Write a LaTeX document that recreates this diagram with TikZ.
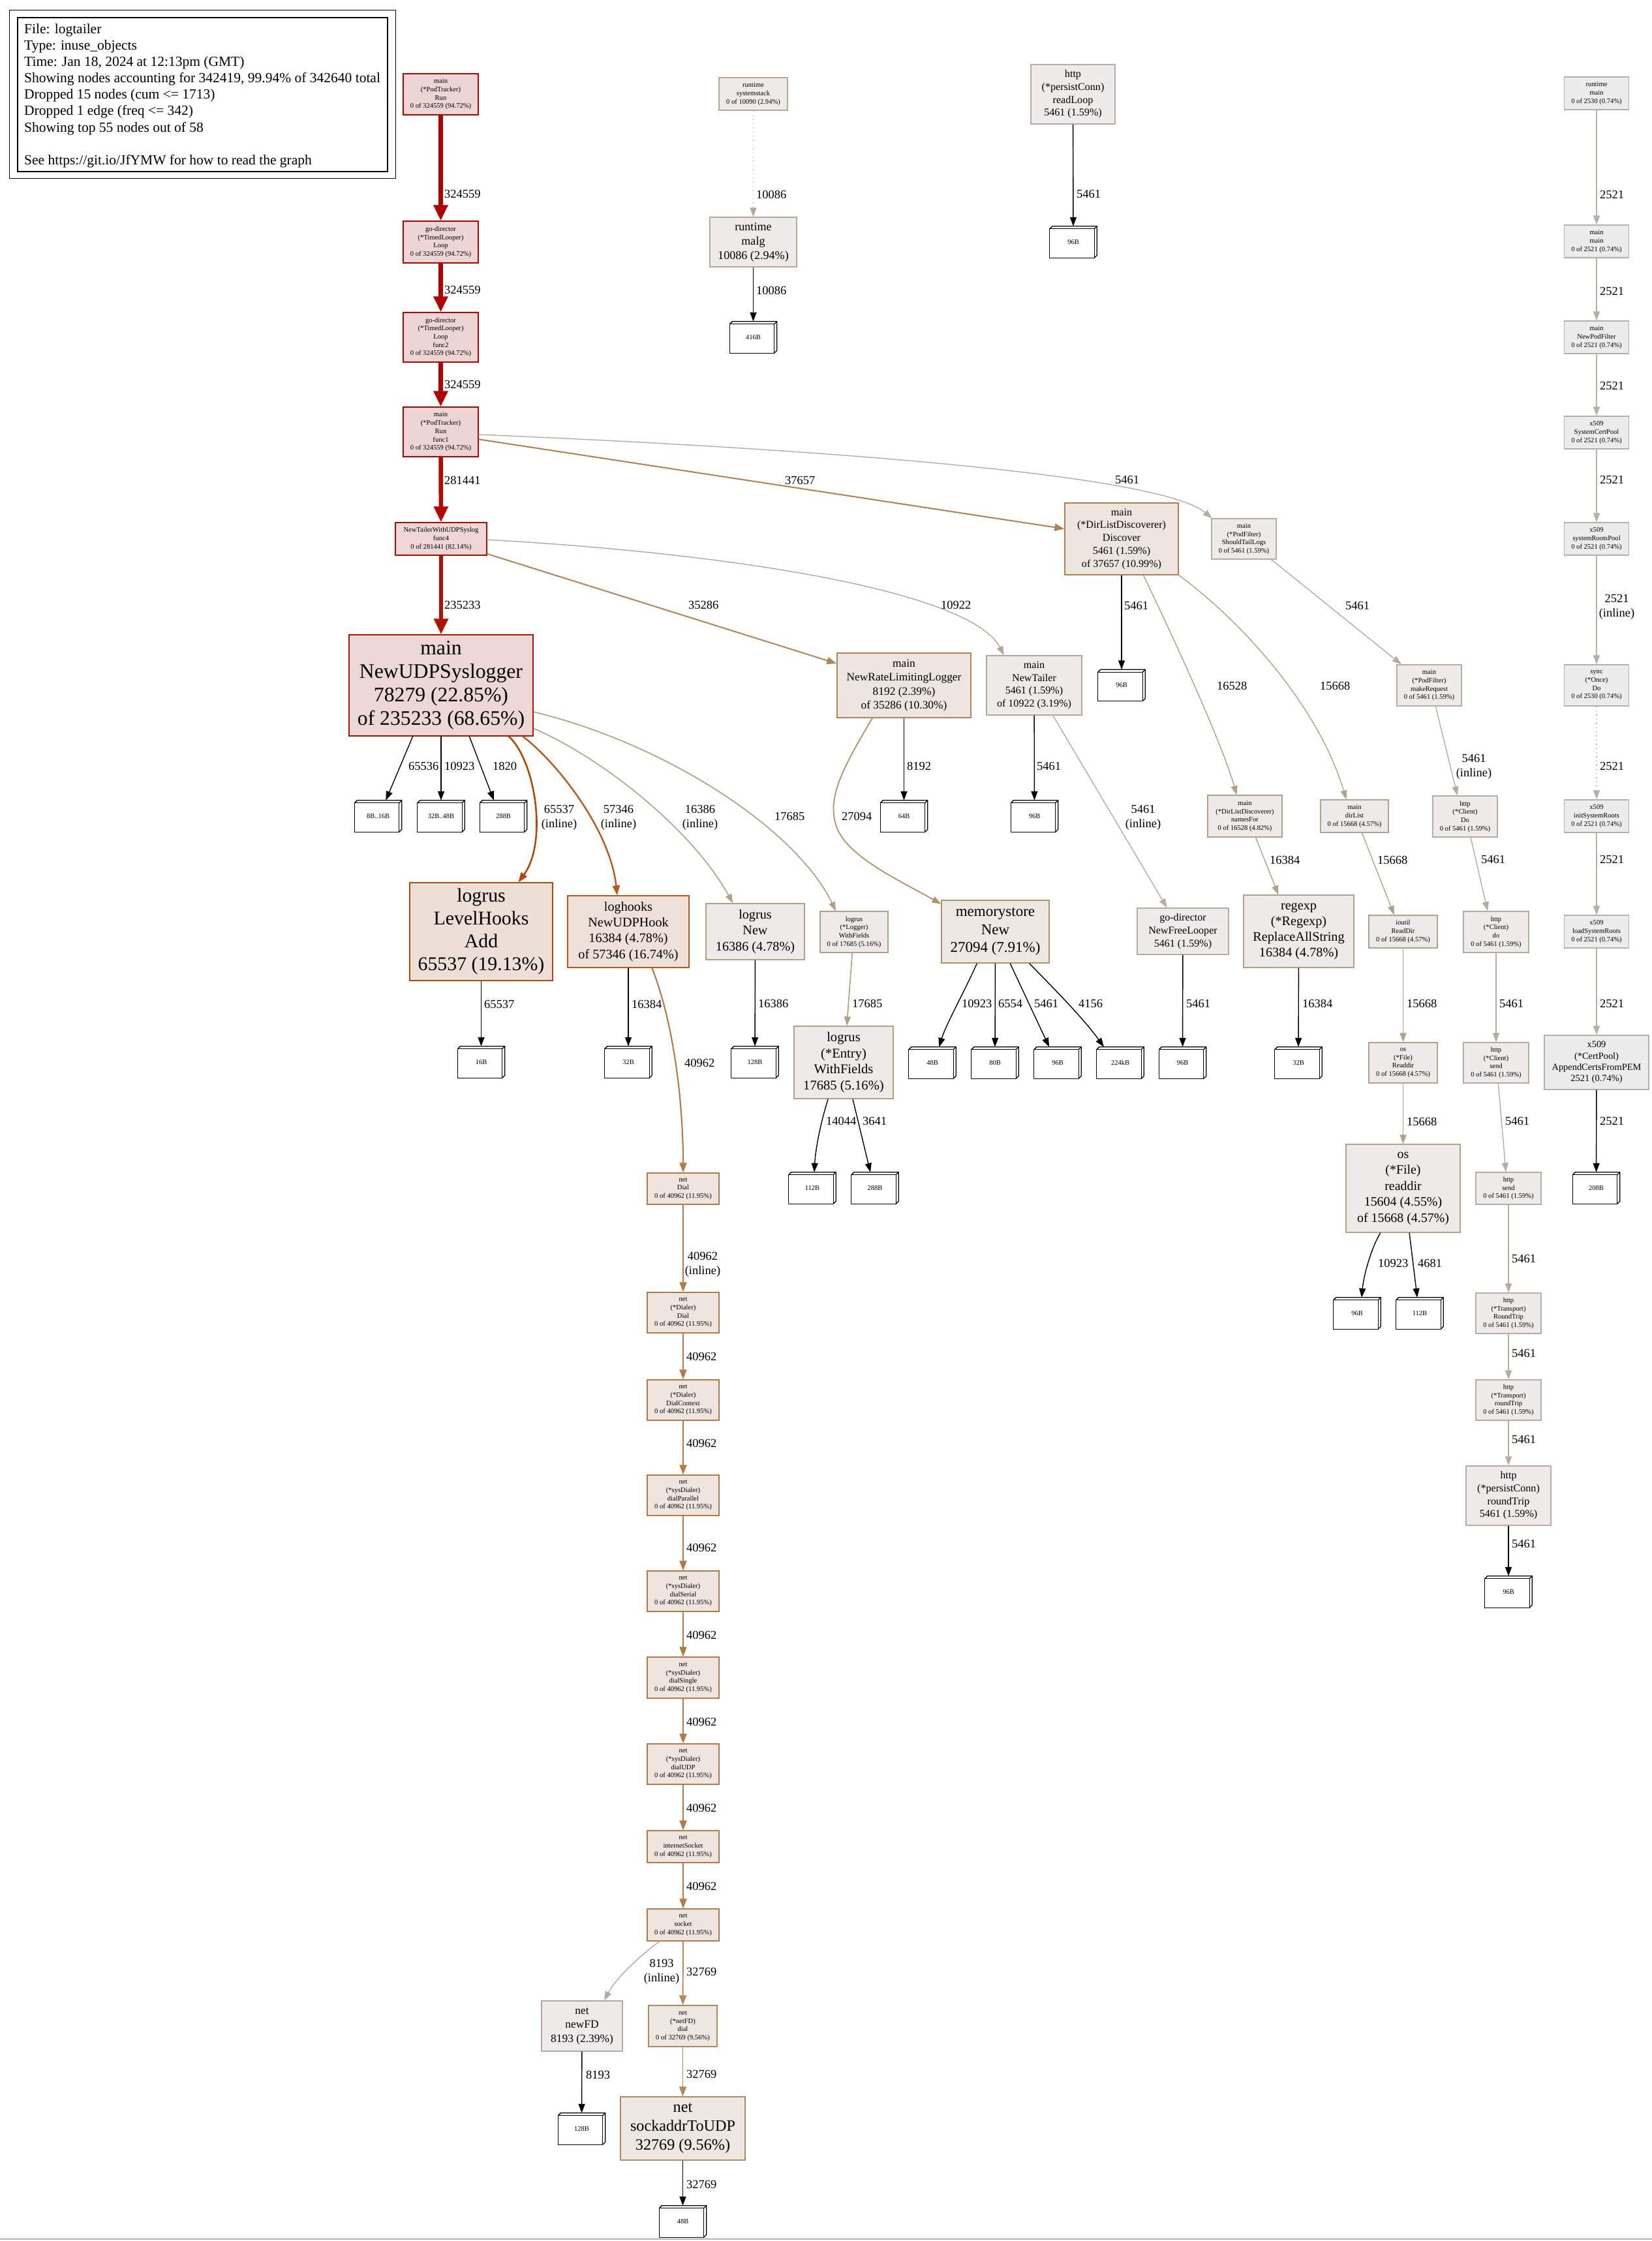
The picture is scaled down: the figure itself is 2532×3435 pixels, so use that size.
\documentclass[tikz,border=0pt]{standalone}
\usepackage{fontspec}
\setmainfont{Liberation Serif}
\usetikzlibrary{arrows.meta}
\newcommand\fzs{\fontsize{10.56}{12.7}\selectfont}
\newcommand\fzudp{\fontsize{31.7}{36}\selectfont}
\newcommand\fzlvl{\fontsize{29.8}{35}\selectfont}
\newcommand\fzsock{\fontsize{24.2}{29}\selectfont}
\newcommand\fzmem{\fontsize{23}{27.5}\selectfont}
\newcommand\fzent{\fontsize{20.6}{24.5}\selectfont}
\newcommand\fzhk{\fontsize{20.2}{24.2}\selectfont}
\newcommand\fzrd{\fontsize{19.9}{24.5}\selectfont}
\newcommand\fzmalg{\fontsize{18.1}{22}\selectfont}
\newcommand\fzrl{\fontsize{17.4}{21.5}\selectfont}
\newcommand\fzd{\fontsize{16.1}{19.7}\selectfont}
\newcommand\fzac{\fontsize{14.4}{17.3}\selectfont}
\newcommand\fztag{\fontsize{10.5}{12}\selectfont}
\newcommand\fzlbl{\fontsize{18.5}{21.5}\selectfont}
\newcommand\fzleg{\fontsize{21.5}{25.1}\selectfont}
\definecolor{rA}{HTML}{B20200}\definecolor{rAf}{HTML}{EDD5D5}
\definecolor{rB}{HTML}{B20A00}\definecolor{rBf}{HTML}{EDD6D5}
\definecolor{rC}{HTML}{B21300}\definecolor{rCf}{HTML}{EDD7D5}
\definecolor{oA}{HTML}{B24A07}\definecolor{oAf}{HTML}{EDDFD6}
\definecolor{oB}{HTML}{B25B1D}\definecolor{oBf}{HTML}{EDE1D9}
\definecolor{nA}{HTML}{B27A47}\definecolor{nAf}{HTML}{EDE5DE}
\definecolor{dA}{HTML}{B27F50}\definecolor{dAf}{HTML}{EDE6E0}
\definecolor{dB}{HTML}{B28456}\definecolor{dBf}{HTML}{EDE6E0}
\definecolor{sA}{HTML}{B2885D}\definecolor{sAf}{HTML}{EDE7E1}
\definecolor{mA}{HTML}{B2916B}\definecolor{mAf}{HTML}{EDE8E3}
\definecolor{wA}{HTML}{B29F84}\definecolor{wAf}{HTML}{EDEAE7}
\definecolor{gA}{HTML}{B2A187}\definecolor{gAf}{HTML}{EDEAE7}
\definecolor{gB}{HTML}{B2A289}\definecolor{gBf}{HTML}{EDEBE7}
\definecolor{gC}{HTML}{B2A896}\definecolor{gCf}{HTML}{EDEBE9}
\definecolor{gD}{HTML}{B2A998}\definecolor{gDf}{HTML}{EDEBE9}
\definecolor{gE}{HTML}{B2AB9D}\definecolor{gEf}{HTML}{EDECEA}
\definecolor{gF}{HTML}{B2AEA4}\definecolor{gFf}{HTML}{EDECEB}
\definecolor{gG}{HTML}{B2B0AB}\definecolor{gGf}{HTML}{EDECEC}
\tikzset{
 nd/.style={draw, rectangle, inner sep=0pt, align=center, line width=1.3pt},
 tagb/.style={rectangle, inner sep=0pt, minimum width=72pt, minimum height=48pt, font=\fztag},
 tagline/.style={draw=black, line width=1.3pt, line join=miter},
 ed/.style={line width=1.4pt, -{Triangle[length=14pt,width=10pt]}},
 edm/.style={line width=2.1pt, -{Triangle[length=15pt,width=11pt]}},
 thk/.style={line width=7pt, -{Triangle[length=24pt,width=21pt]}},
 lbl/.style={font=\fzlbl, inner sep=0pt, anchor=base west},
 lbltwo/.style={font=\fzlbl, inner sep=0pt, align=center},
 legl/.style={font=\fzleg, inner sep=0pt, anchor=base west},
 dotd/.style={dash pattern=on 1.4pt off 5pt},
}
\begin{document}
\begin{tikzpicture}[x=1pt,y=-1pt]
\fill[white] (0,0) rectangle (2532,3435);
\useasboundingbox (0,0) rectangle (2532,3435);
\draw[gray!60, line width=1.5pt] (0,3432) -- (2532,3432);
% legend
\node[draw, line width=1.3pt, minimum width=567pt, minimum height=236pt, inner sep=0pt] (legend) at (310.5,145) {};
\draw[line width=1.3pt] ([xshift=-12pt,yshift=11pt]legend.north west) rectangle ([xshift=12pt,yshift=-10pt]legend.south east);
\node[legl] (lg1) at (37,51.4) {File: logtailer};
\node[legl] (lg2) at (37,76.5) {Type: inuse\_objects};
\node[legl] (lg3) at (37,101.6) {Time: Jan 18, 2024 at 12:13pm (GMT)};
\node[legl] (lg4) at (37,126.7) {Showing nodes accounting for 342419, 99.94\% of 342640 total};
\node[legl] (lg5) at (37,151.8) {Dropped 15 nodes (cum <= 1713)};
\node[legl] (lg6) at (37,176.9) {Dropped 1 edge (freq <= 342)};
\node[legl] (lg7) at (37,202.0) {Showing top 55 nodes out of 58};
\node[legl] (lg8) at (37,252.2) {See https://git.io/JfYMW for how to read the graph};
% left chain
\node[nd, draw=rA, fill=rAf, minimum width=115pt, minimum height=63pt, font=\fzs] (run) at (675.5,144.5) {main\\(*PodTracker)\\Run\\0 of 324559 (94.72\%)};
\node[nd, draw=rA, fill=rAf, minimum width=115pt, minimum height=64pt, font=\fzs] (loop) at (675.5,371) {go-director\\(*TimedLooper)\\Loop\\0 of 324559 (94.72\%)};
\node[nd, draw=rA, fill=rAf, minimum width=115pt, minimum height=76pt, font=\fzs] (func2) at (675.5,517) {go-director\\(*TimedLooper)\\Loop\\func2\\0 of 324559 (94.72\%)};
\node[nd, draw=rA, fill=rAf, minimum width=115pt, minimum height=76pt, font=\fzs] (func1) at (675.5,662) {main\\(*PodTracker)\\Run\\func1\\0 of 324559 (94.72\%)};
\node[nd, draw=rB, fill=rBf, minimum width=140pt, minimum height=50pt, font=\fzs] (tailer) at (676,826) {NewTailerWithUDPSyslog\\func4\\0 of 281441 (82.14\%)};
\node[nd, draw=rC, fill=rCf, minimum width=282pt, minimum height=155pt, font=\fzudp] (udpsys) at (676,1050.5) {main\\NewUDPSyslogger\\78279 (22.85\%)\\of 235233 (68.65\%)};
\node[tagb] (b8) at (579.5,1251) {8B..16B};
\node[tagb] (b3248) at (676,1251) {32B..48B};
\node[tagb] (b288) at (771.5,1251) {288B};
\node[nd, draw=oA, fill=oAf, minimum width=219pt, minimum height=150pt, font=\fzlvl] (lvlhooks) at (737.5,1428) {logrus\\LevelHooks\\Add\\65537 (19.13\%)};
\node[nd, draw=oB, fill=oBf, minimum width=186pt, minimum height=110pt, font=\fzhk] (udphook) at (963,1428) {loghooks\\NewUDPHook\\16384 (4.78\%)\\of 57346 (16.74\%)};
\node[nd, draw=gA, fill=gAf, minimum width=151pt, minimum height=86pt, font=\fzhk] (lnew) at (1157.5,1428) {logrus\\New\\16386 (4.78\%)};
\node[nd, draw=wA, fill=wAf, minimum width=104pt, minimum height=63pt, font=\fzs] (lwithf) at (1309,1428.5) {logrus\\(*Logger)\\WithFields\\0 of 17685 (5.16\%)};
\node[nd, draw=mA, fill=mAf, minimum width=165pt, minimum height=96pt, font=\fzmem] (memnew) at (1525.5,1428) {memorystore\\New\\27094 (7.91\%)};
\node[nd, draw=gF, fill=gFf, minimum width=140pt, minimum height=71pt, font=\fzd] (freelooper) at (1813,1427.5) {go-director\\NewFreeLooper\\5461 (1.59\%)};
\node[nd, draw=gA, fill=gAf, minimum width=169pt, minimum height=111pt, font=\fzhk] (regexp) at (1990.5,1427.5) {regexp\\(*Regexp)\\ReplaceAllString\\16384 (4.78\%)};
\node[nd, draw=gB, fill=gBf, minimum width=105pt, minimum height=50pt, font=\fzs] (readdirU) at (2150.5,1428) {ioutil\\ReadDir\\0 of 15668 (4.57\%)};
\node[nd, draw=gF, fill=gFf, minimum width=100pt, minimum height=63pt, font=\fzs] (clientdoL) at (2293,1428.5) {http\\(*Client)\\do\\0 of 5461 (1.59\%)};
\node[nd, draw=gG, fill=gGf, minimum width=99pt, minimum height=50pt, font=\fzs] (loadroots) at (2447,1428) {x509\\loadSystemRoots\\0 of 2521 (0.74\%)};
\node[tagb] (b16) at (737.5,1628) {16B};
\node[tagb] (b32a) at (963,1628) {32B};
\node[tagb] (b128a) at (1157,1628) {128B};
\node[nd, draw=wA, fill=wAf, minimum width=152pt, minimum height=111pt, font=\fzent] (ewithf) at (1293,1628.5) {logrus\\(*Entry)\\WithFields\\17685 (5.16\%)};
\node[tagb] (b48a) at (1429,1629) {48B};
\node[tagb] (b80) at (1525,1629) {80B};
\node[tagb] (b96c) at (1621,1629) {96B};
\node[tagb] (b224k) at (1717,1629) {224kB};
\node[tagb] (b96d) at (1812.5,1629) {96B};
\node[tagb] (b32b) at (1990,1629) {32B};
\node[nd, draw=gB, fill=gBf, minimum width=105pt, minimum height=62pt, font=\fzs] (osReaddirU) at (2150.5,1629) {os\\(*File)\\Readdir\\0 of 15668 (4.57\%)};
\node[nd, draw=gF, fill=gFf, minimum width=100pt, minimum height=62pt, font=\fzs] (clientsend) at (2293,1629) {http\\(*Client)\\send\\0 of 5461 (1.59\%)};
\node[nd, draw=gG, fill=gGf, minimum width=160pt, minimum height=83pt, font=\fzac] (appendcerts) at (2447,1628.5) {x509\\(*CertPool)\\AppendCertsFromPEM\\2521 (0.74\%)};
\node[nd, draw=nA, fill=nAf, minimum width=110pt, minimum height=48pt, font=\fzs] (netdial) at (1047,1822) {net\\Dial\\0 of 40962 (11.95\%)};
\node[tagb] (b112a) at (1245,1821) {112B};
\node[tagb] (b288b) at (1341,1821) {288B};
\node[nd, draw=gB, fill=gBf, minimum width=175pt, minimum height=135pt, font=\fzrd] (osreaddir) at (2150.5,1821.5) {os\\(*File)\\readdir\\15604 (4.55\%)\\of 15668 (4.57\%)};
\node[nd, draw=gF, fill=gFf, minimum width=100pt, minimum height=49pt, font=\fzs] (httpsend) at (2312,1821.5) {http\\send\\0 of 5461 (1.59\%)};
\node[tagb] (b208) at (2446.5,1821) {208B};
\node[nd, draw=nA, fill=nAf, minimum width=110pt, minimum height=62pt, font=\fzs] (dialerDial) at (1047,2012) {net\\(*Dialer)\\Dial\\0 of 40962 (11.95\%)};
\node[tagb] (b96f) at (2080,2013) {96B};
\node[tagb] (b112b) at (2176,2013) {112B};
\node[nd, draw=gF, fill=gFf, minimum width=100pt, minimum height=62pt, font=\fzs] (troundtripU) at (2312,2013) {http\\(*Transport)\\RoundTrip\\0 of 5461 (1.59\%)};
\node[nd, draw=nA, fill=nAf, minimum width=110pt, minimum height=62pt, font=\fzs] (dialctx) at (1047,2146) {net\\(*Dialer)\\DialContext\\0 of 40962 (11.95\%)};
\node[nd, draw=gF, fill=gFf, minimum width=100pt, minimum height=62pt, font=\fzs] (troundtrip) at (2312,2146) {http\\(*Transport)\\roundTrip\\0 of 5461 (1.59\%)};
\node[nd, draw=nA, fill=nAf, minimum width=110pt, minimum height=62pt, font=\fzs] (dialpar) at (1047,2292) {net\\(*sysDialer)\\dialParallel\\0 of 40962 (11.95\%)};
\node[nd, draw=gF, fill=gFf, minimum width=130pt, minimum height=91pt, font=\fzd] (pcroundtrip) at (2312,2292.5) {http\\(*persistConn)\\roundTrip\\5461 (1.59\%)};
\node[nd, draw=nA, fill=nAf, minimum width=110pt, minimum height=62pt, font=\fzs] (dialser) at (1047,2439) {net\\(*sysDialer)\\dialSerial\\0 of 40962 (11.95\%)};
\node[tagb] (b96g) at (2312,2440) {96B};
\node[nd, draw=nA, fill=nAf, minimum width=110pt, minimum height=63pt, font=\fzs] (dialsingle) at (1047,2571.5) {net\\(*sysDialer)\\dialSingle\\0 of 40962 (11.95\%)};
\node[nd, draw=nA, fill=nAf, minimum width=110pt, minimum height=62pt, font=\fzs] (dialudp) at (1047,2704) {net\\(*sysDialer)\\dialUDP\\0 of 40962 (11.95\%)};
\node[nd, draw=nA, fill=nAf, minimum width=110pt, minimum height=49pt, font=\fzs] (inetsock) at (1047,2830.5) {net\\internetSocket\\0 of 40962 (11.95\%)};
\node[nd, draw=nA, fill=nAf, minimum width=110pt, minimum height=49pt, font=\fzs] (socket) at (1047,2950.5) {net\\socket\\0 of 40962 (11.95\%)};
\node[nd, draw=gE, fill=gEf, minimum width=124pt, minimum height=77pt, font=\fzrl] (newfd) at (892,3105.5) {net\\newFD\\8193 (2.39\%)};
\node[nd, draw=sA, fill=sAf, minimum width=105pt, minimum height=63pt, font=\fzs] (netfddial) at (1046.5,3105.5) {net\\(*netFD)\\dial\\0 of 32769 (9.56\%)};
\node[tagb] (b128b) at (891.5,3263) {128B};
\node[nd, draw=sA, fill=sAf, minimum width=191pt, minimum height=97pt, font=\fzsock] (sockaddr) at (1046.5,3262.5) {net\\sockaddrToUDP\\32769 (9.56\%)};
\node[tagb] (b48b) at (1046.5,3405) {48B};
% top middle
\node[nd, draw=gD, fill=gDf, minimum width=105pt, minimum height=50pt, font=\fzs] (sysstack) at (1154.5,144) {runtime\\systemstack\\0 of 10090 (2.94\%)};
\node[nd, draw=gD, fill=gDf, minimum width=133pt, minimum height=76pt, font=\fzmalg] (malg) at (1154.5,371) {runtime\\malg\\10086 (2.94\%)};
\node[tagb] (b416) at (1154.5,517) {416B};
\node[nd, draw=gF, fill=gFf, minimum width=129pt, minimum height=91pt, font=\fzd] (readloop) at (1644.5,144.5) {http\\(*persistConn)\\readLoop\\5461 (1.59\%)};
\node[tagb] (b96a) at (1645,371) {96B};
% right column
\node[nd, draw=gG, fill=gGf, minimum width=99pt, minimum height=50pt, font=\fzs] (rtmain) at (2447,143) {runtime\\main\\0 of 2530 (0.74\%)};
\node[nd, draw=gG, fill=gGf, minimum width=99pt, minimum height=50pt, font=\fzs] (mainmain) at (2447,370) {main\\main\\0 of 2521 (0.74\%)};
\node[nd, draw=gG, fill=gGf, minimum width=99pt, minimum height=50pt, font=\fzs] (newpodfilter) at (2447,517) {main\\NewPodFilter\\0 of 2521 (0.74\%)};
\node[nd, draw=gG, fill=gGf, minimum width=99pt, minimum height=50pt, font=\fzs] (syscertpool) at (2447,663) {x509\\SystemCertPool\\0 of 2521 (0.74\%)};
\node[nd, draw=gG, fill=gGf, minimum width=99pt, minimum height=50pt, font=\fzs] (sysrootspool) at (2447,826) {x509\\systemRootsPool\\0 of 2521 (0.74\%)};
\node[nd, draw=gG, fill=gGf, minimum width=99pt, minimum height=63pt, font=\fzs] (oncedo) at (2447,1050.5) {sync\\(*Once)\\Do\\0 of 2530 (0.74\%)};
\node[nd, draw=gG, fill=gGf, minimum width=99pt, minimum height=50pt, font=\fzs] (initroots) at (2447,1251) {x509\\initSystemRoots\\0 of 2521 (0.74\%)};
% middle
\node[nd, draw=dA, fill=dAf, minimum width=174pt, minimum height=110pt, font=\fzd] (discover) at (1719,826) {main\\(*DirListDiscoverer)\\Discover\\5461 (1.59\%)\\of 37657 (10.99\%)};
\node[nd, draw=gF, fill=gFf, minimum width=99pt, minimum height=62pt, font=\fzs] (shouldtail) at (1906.5,826) {main\\(*PodFilter)\\ShouldTailLogs\\0 of 5461 (1.59\%)};
\node[nd, draw=dB, fill=dBf, minimum width=205pt, minimum height=99pt, font=\fzrl] (nrll) at (1385.5,1050.5) {main\\NewRateLimitingLogger\\8192 (2.39\%)\\of 35286 (10.30\%)};
\node[nd, draw=gC, fill=gCf, minimum width=146pt, minimum height=91pt, font=\fzd] (ntailer) at (1585,1050.5) {main\\NewTailer\\5461 (1.59\%)\\of 10922 (3.19\%)};
\node[tagb] (b96e) at (1719,1050.5) {96B};
\node[nd, draw=gF, fill=gFf, minimum width=99pt, minimum height=63pt, font=\fzs] (makereq) at (2190.5,1050.5) {main\\(*PodFilter)\\makeRequest\\0 of 5461 (1.59\%)};
\node[tagb] (b64) at (1385.5,1251) {64B};
\node[tagb] (b96b) at (1585.5,1251) {96B};
\node[nd, draw=gA, fill=gAf, minimum width=114pt, minimum height=64pt, font=\fzs] (namesfor) at (1908,1251) {main\\(*DirListDiscoverer)\\namesFor\\0 of 16528 (4.82\%)};
\node[nd, draw=gB, fill=gBf, minimum width=104pt, minimum height=50pt, font=\fzs] (dirlist) at (2076,1251) {main\\dirList\\0 of 15668 (4.57\%)};
\node[nd, draw=gF, fill=gFf, minimum width=99pt, minimum height=63pt, font=\fzs] (clientDoU) at (2245.5,1251.5) {http\\(*Client)\\Do\\0 of 5461 (1.59\%)};
% ---------- edges
\draw[thk, rA] (run) -- (loop);
\draw[thk, rA] (loop) -- (func2);
\draw[thk, rA] (func2) -- (func1);
\draw[thk, rB, line width=6.6pt] (func1) -- (tailer);
\draw[thk, rC, line width=6pt] (tailer) -- (udpsys);
\draw[edm, dA, line width=2pt] (func1.-11) -- (discover.170);
\draw[ed, gF] (func1.-4) .. controls (1300,690) and (1780,730) .. (shouldtail.147);
\draw[edm, dB, line width=2pt] (tailer.-18) -- (nrll.162);
\draw[ed, gC] (tailer.-1) .. controls (1150,850) and (1490,910) .. (ntailer.135);
\draw[ed, black] (udpsys.-119) -- (b8.64);
\draw[ed, black] (udpsys) -- (b3248);
\draw[ed, black] (udpsys.-61) -- (b288.121);
\draw[edm, oA, line width=2.6pt] (udpsys.-37) .. controls (820,1165) and (840,1290) .. (lvlhooks.53);
\draw[edm, oB, line width=2.4pt] (udpsys.-32) .. controls (850,1165) and (935,1270) .. (udphook.107);
\draw[ed, gA, line width=1.6pt] (udpsys.-25) .. controls (920,1160) and (1060,1270) .. (lnew.128);
\draw[ed, wA, line width=1.7pt] (udpsys.-16) .. controls (1020,1140) and (1220,1270) .. (lwithf.131);
\draw[ed, mA, line width=1.8pt] (nrll.-134) .. controls (1290,1180) and (1270,1220) .. (1280,1260) .. controls (1290,1310) and (1380,1350) .. (memnew.153);
\draw[ed, black] (nrll) -- (b64);
\draw[ed, black] (ntailer) -- (b96b);
\draw[ed, gF] (ntailer.-58) -- (freelooper.124);
\draw[ed, black] (discover) -- (b96e);
\draw[ed, gA] (discover.-59) .. controls (1790,960) and (1870,1130) .. (namesfor.111);
\draw[ed, gB] (discover.south east) .. controls (1900,950) and (2020,1080) .. (dirlist.116);
\draw[ed, gF] (shouldtail.-37) -- (makereq.143);
\draw[ed, gF] (makereq.-73) -- (clientDoU.110);
\draw[ed, gF] (clientDoU.-75) -- (clientdoL.112);
\draw[ed, gA] (namesfor.-63) -- (regexp.119);
\draw[ed, gB] (dirlist.-66) -- (readdirU.118);
\draw[ed, black] (regexp) -- (b32b);
\draw[ed, gB, line width=1.6pt] (readdirU) -- (osReaddirU);
\draw[ed, gB, line width=1.6pt] (osReaddirU) -- (osreaddir);
\draw[ed, gF] (clientdoL) -- (clientsend);
\draw[ed, gF] (clientsend.-84) -- (httpsend.99);
\draw[ed, gF] (httpsend) -- (troundtripU);
\draw[ed, gF] (troundtripU) -- (troundtrip);
\draw[ed, gF] (troundtrip) -- (pcroundtrip);
\draw[ed, black] (pcroundtrip) -- (b96g);
\draw[ed, black] (osreaddir.-117) .. controls (2102,1912) and (2090,1955) .. (b96f.74);
\draw[ed, black] (osreaddir.-82) -- (b112b.99);
\draw[ed, black] (lvlhooks) -- (b16);
\draw[ed, black] (udphook) -- (b32a);
\draw[edm, nA] (udphook.-57) .. controls (1030,1560) and (1047,1680) .. (netdial.north);
\draw[ed, black] (lnew) -- (b128a);
\draw[ed, wA, line width=1.7pt] (lwithf.-95) -- (ewithf.85);
\draw[ed, black] (ewithf.-113) .. controls (1258,1720) and (1250,1760) .. (b112a.83);
\draw[ed, black] (ewithf.-76) -- (b288b.106);
\draw[ed, black] (memnew.-120) .. controls (1478,1520) and (1450,1570) .. (b48a.67);
\draw[ed, black] (memnew) -- (b80);
\draw[ed, black] (memnew.-65) -- (b96c.118);
\draw[ed, black] (memnew.-43.5) .. controls (1610,1510) and (1660,1560) .. (b224k.136);
\draw[ed, black] (freelooper) -- (b96d);
\draw[edm, nA] (netdial) -- (dialerDial);
\draw[edm, nA] (dialerDial) -- (dialctx);
\draw[edm, nA] (dialctx) -- (dialpar);
\draw[edm, nA] (dialpar) -- (dialser);
\draw[edm, nA] (dialser) -- (dialsingle);
\draw[edm, nA] (dialsingle) -- (dialudp);
\draw[edm, nA] (dialudp) -- (inetsock);
\draw[edm, nA] (inetsock) -- (socket);
\draw[edm, sA, line width=1.95pt] (socket) -- (netfddial);
\draw[ed, gE] (socket.-145) .. controls (990,2990) and (945,3030) .. (newfd.49);
\draw[edm, sA, line width=1.95pt] (netfddial) -- (sockaddr);
\draw[ed, black] (sockaddr) -- (b48b);
\draw[ed, black] (newfd) -- (b128b);
\draw[ed, gD, dotd] (sysstack) -- (malg);
\draw[ed, black] (malg) -- (b416);
\draw[ed, black] (readloop) -- (b96a);
\draw[ed, gG] (rtmain) -- (mainmain);
\draw[ed, gG] (mainmain) -- (newpodfilter);
\draw[ed, gG] (newpodfilter) -- (syscertpool);
\draw[ed, gG] (syscertpool) -- (sysrootspool);
\draw[ed, gG] (sysrootspool) -- (oncedo);
\draw[ed, gG, dotd] (oncedo) -- (initroots);
\draw[ed, gG] (initroots) -- (loadroots);
\draw[ed, gG] (loadroots) -- (appendcerts);
\draw[ed, black] (appendcerts) -- (b208);
% tag boxes (box3d)
\foreach \n in {b8,b3248,b288,b16,b32a,b128a,b48a,b80,b96c,b224k,b96d,b32b,b64,b96b,b96e,b112a,b288b,b96f,b112b,b208,b96g,b128b,b48b,b416,b96a}{
  \draw[tagline] (\n.south west) rectangle ([xshift=-4pt,yshift=-4pt]\n.north east);
  \draw[tagline] ([yshift=-4pt]\n.north west) -- ([xshift=4pt]\n.north west) -- (\n.north east) -- ([yshift=4pt]\n.south east) -- ([xshift=-4pt]\n.south east);
  \draw[tagline] (\n.north east) -- ([xshift=-4pt,yshift=-4pt]\n.north east);
}
% ---------- edge labels
\node[lbl] (l1) at (681,303) {324559};
\node[lbl] (l2) at (681,450) {324559};
\node[lbl] (l3) at (681,595) {324559};
\node[lbl] (l4) at (681,742) {281441};
\node[lbl] (l5) at (681,933) {235233};
\node[lbl] (l6) at (1203,742) {37657};
\node[lbl] (l7) at (1709,741) {5461};
\node[lbl] (l8) at (1159,304) {10086};
\node[lbl] (l9) at (1159,451) {10086};
\node[lbl] (l10) at (1650,303) {5461};
\node[lbl] (l11) at (2452,304) {2521};
\node[lbl] (l12) at (2452,452) {2521};
\node[lbl] (l13) at (2452,597) {2521};
\node[lbl] (l14) at (2452,741) {2521};
\node[lbltwo] (l15) at (2478,930.5) {2521\\(inline)};
\node[lbl] (l16) at (2452,1180) {2521};
\node[lbl] (l17) at (2452,1323) {2521};
\node[lbl] (l18) at (2452,1544) {2521};
\node[lbl] (l19) at (2452,1724) {2521};
\node[lbl] (l20) at (1055,933) {35286};
\node[lbl] (l21) at (1442,933) {10922};
\node[lbl] (l22) at (1723,934) {5461};
\node[lbl] (l23) at (2062,934) {5461};
\node[lbl] (l24) at (1865,1057) {16528};
\node[lbl] (l25) at (2023,1057) {15668};
\node[lbltwo] (l26) at (2259,1175.5) {5461\\(inline)};
\node[lbl] (l27) at (626,1180) {65536};
\node[lbl] (l28) at (681,1180) {10923};
\node[lbl] (l29) at (755,1180) {1820};
\node[lbl] (l30) at (1390,1180) {8192};
\node[lbl] (l31) at (1589,1180) {5461};
\node[lbltwo] (l32) at (857,1253.5) {65537\\(inline)};
\node[lbltwo] (l33) at (948,1253.5) {57346\\(inline)};
\node[lbltwo] (l34) at (1073,1253.5) {16386\\(inline)};
\node[lbl] (l35) at (1187,1257) {17685};
\node[lbl] (l36) at (1290,1257) {27094};
\node[lbltwo] (l37) at (1752,1253.5) {5461\\(inline)};
\node[lbl] (l38) at (1946,1324) {16384};
\node[lbl] (l39) at (2111,1324) {15668};
\node[lbl] (l40) at (2270,1323) {5461};
\node[lbl] (l41) at (742,1545) {65537};
\node[lbl] (l42) at (968,1545) {16384};
\node[lbl] (l43) at (1162,1544) {16386};
\node[lbl] (l44) at (1306,1544) {17685};
\node[lbl] (l45) at (1474,1544) {10923};
\node[lbl] (l46) at (1530,1544) {6554};
\node[lbl] (l47) at (1585,1544) {5461};
\node[lbl] (l48) at (1653,1544) {4156};
\node[lbl] (l49) at (1818,1544) {5461};
\node[lbl] (l50) at (1996,1544) {16384};
\node[lbl] (l51) at (2156,1544) {15668};
\node[lbl] (l52) at (2298,1544) {5461};
\node[lbl] (l53) at (1049,1635) {40962};
\node[lbl] (l54) at (1266,1724) {14044};
\node[lbl] (l55) at (1322,1724) {3641};
\node[lbl] (l56) at (2156,1725) {15668};
\node[lbl] (l57) at (2307,1724) {5461};
\node[lbltwo] (l58) at (1077,1938.5) {40962\\(inline)};
\node[lbl] (l59) at (2112,1942) {10923};
\node[lbl] (l60) at (2173,1942) {4681};
\node[lbl] (l61) at (2317,1935) {5461};
\node[lbl] (l62) at (2317,2080) {5461};
\node[lbl] (l63) at (2317,2212) {5461};
\node[lbl] (l64) at (2317,2372) {5461};
\node[lbl] (l65) at (1052,2085) {40962};
\node[lbl] (l66) at (1052,2218) {40962};
\node[lbl] (l67) at (1052,2378) {40962};
\node[lbl] (l68) at (1052,2512) {40962};
\node[lbl] (l69) at (1052,2645) {40962};
\node[lbl] (l70) at (1052,2777) {40962};
\node[lbl] (l71) at (1052,2897) {40962};
\node[lbltwo] (l72) at (1014,3022.5) {8193\\(inline)};
\node[lbl] (l73) at (1052,3028) {32769};
\node[lbl] (l74) at (898,3186) {8193};
\node[lbl] (l75) at (1052,3185) {32769};
\node[lbl] (l76) at (1052,3354) {32769};
\end{tikzpicture}
\end{document}
